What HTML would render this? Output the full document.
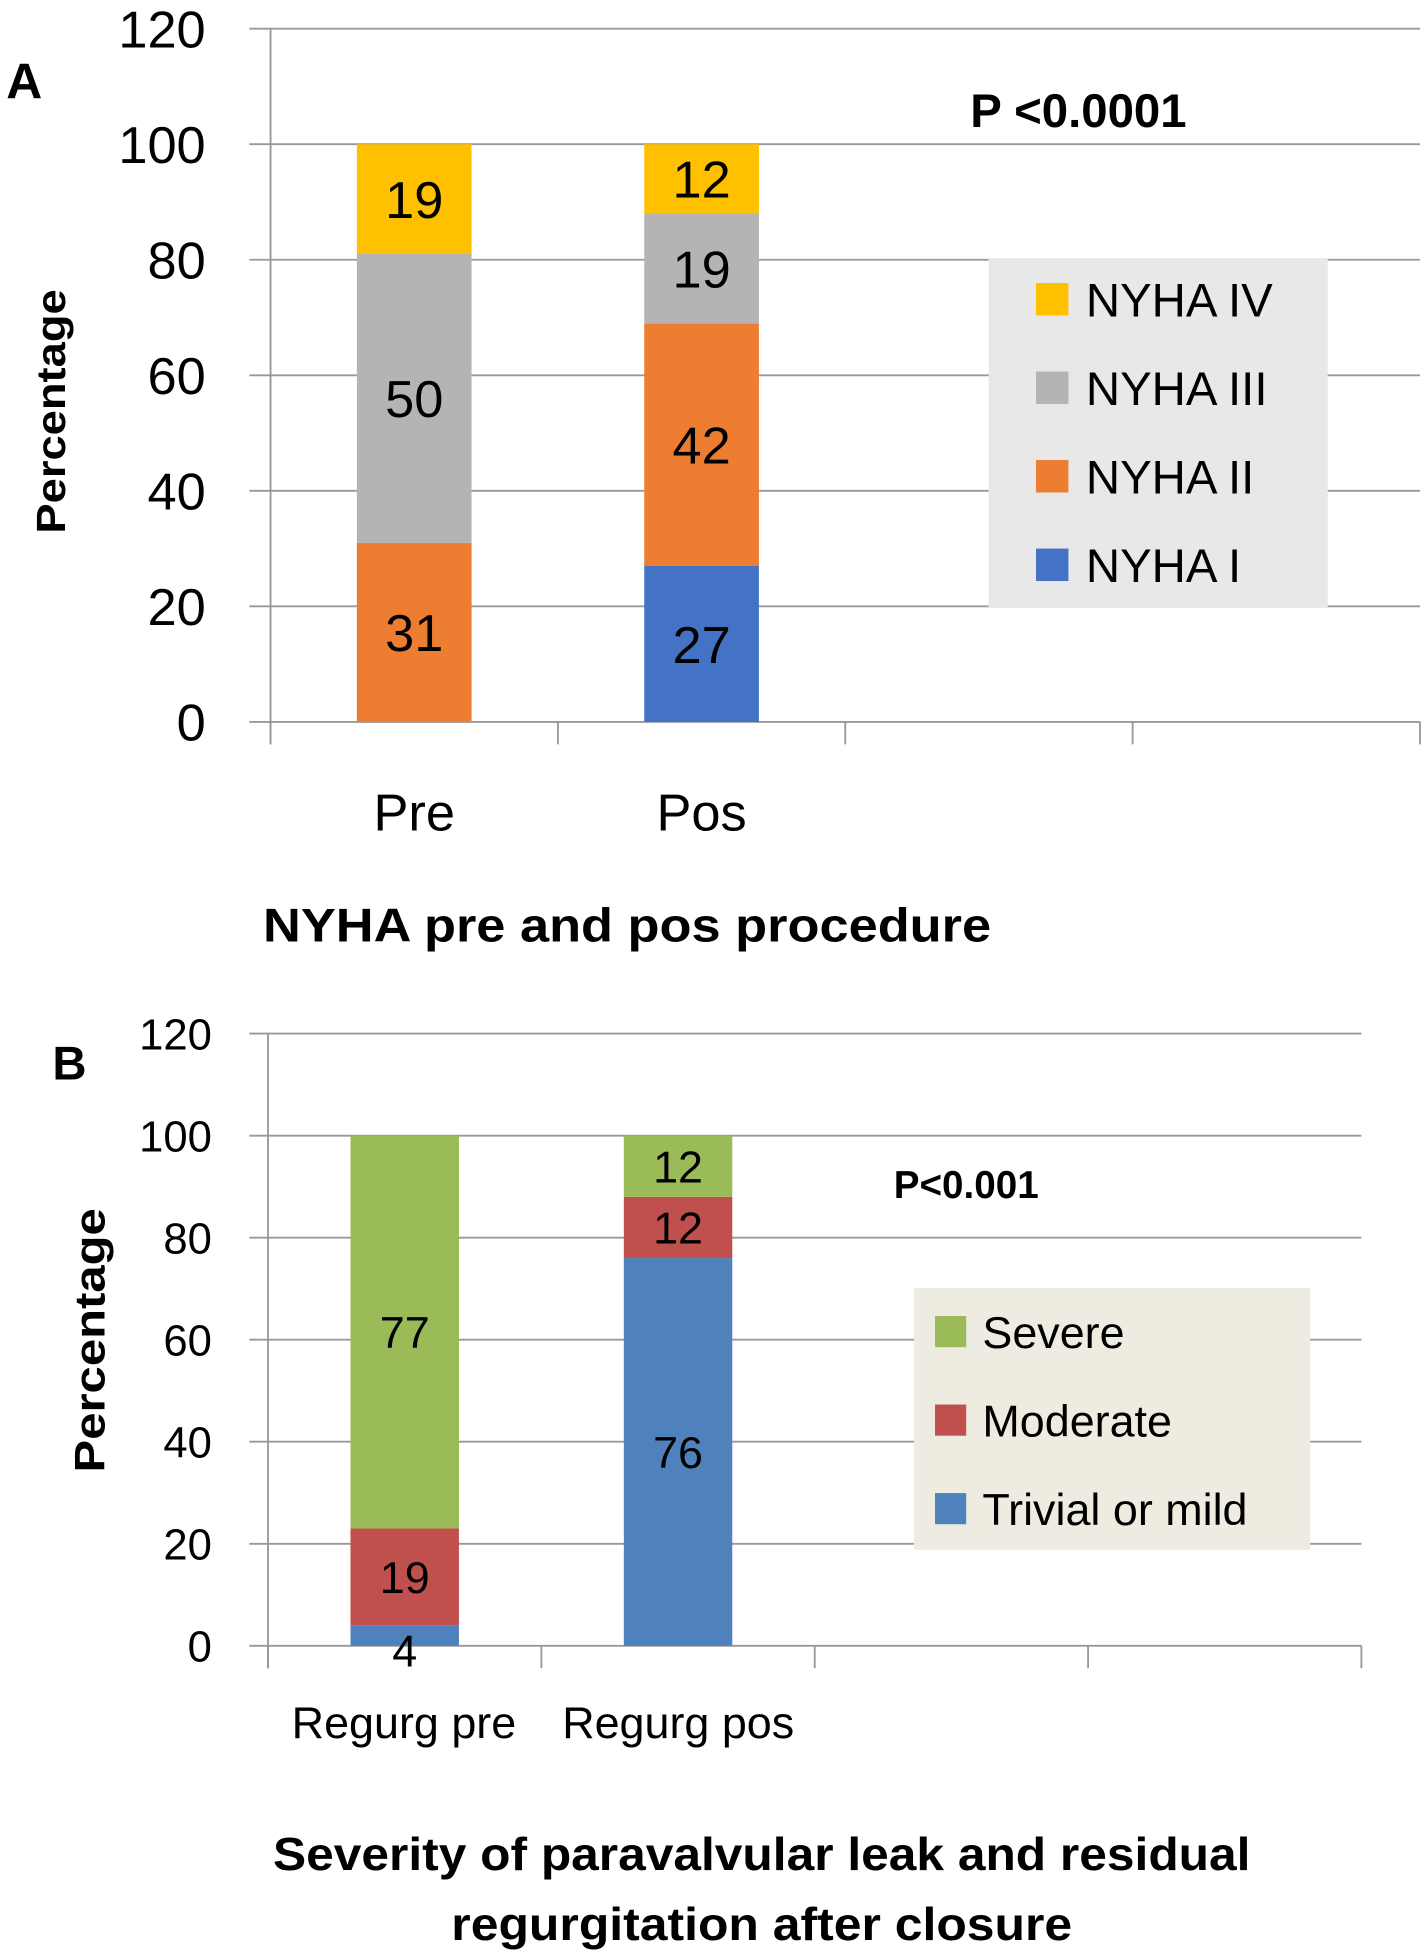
<!DOCTYPE html>
<html><head><meta charset="utf-8"><style>
html,body{margin:0;padding:0;background:#fff}
svg{display:block}
text{font-family:"Liberation Sans",sans-serif}
</style></head><body>
<svg id="s" width="1425" height="1955" viewBox="0 0 1143 1568" preserveAspectRatio="none" xmlns="http://www.w3.org/2000/svg">
<text x="5" y="79" font-size="40" font-weight="bold">A</text>
<text x="865" y="102" font-size="38" font-weight="bold" text-anchor="middle">P &lt;0.0001</text>
<text transform="translate(52,330) rotate(-90)" font-size="33" font-weight="bold" text-anchor="middle" textLength="196" lengthAdjust="spacingAndGlyphs">Percentage</text>
<text x="503" y="755" font-size="38" font-weight="bold" text-anchor="middle" textLength="584" lengthAdjust="spacingAndGlyphs">NYHA pre and pos procedure</text>
<text x="42" y="866" font-size="38" font-weight="bold">B</text>
<text x="775" y="961" font-size="31" font-weight="bold" text-anchor="middle">P&lt;0.001</text>
<text transform="translate(84,1075) rotate(-90)" font-size="34" font-weight="bold" text-anchor="middle" textLength="212" lengthAdjust="spacingAndGlyphs">Percentage</text>
<text x="611" y="1500" font-size="37" font-weight="bold" text-anchor="middle" textLength="784" lengthAdjust="spacingAndGlyphs">Severity of paravalvular leak and residual</text>
<text x="611" y="1556" font-size="37" font-weight="bold" text-anchor="middle" textLength="498" lengthAdjust="spacingAndGlyphs">regurgitation after closure</text>
</svg>
<script>
// Panel A data
const catsA = ["Pre", "Pos"];
const seriesNamesA = ["NYHA I", "NYHA II", "NYHA III", "NYHA IV"];
const nyha1 = [0, 27];
const nyha2 = [31, 42];
const nyha3 = [50, 19];
const nyha4 = [19, 12];
const ticksA = [0, 20, 40, 60, 80, 100, 120];
// Panel B data
const catsB = ["Regurg pre", "Regurg pos"];
const seriesNamesB = ["Trivial or mild", "Moderate", "Severe"];
const trivial = [4, 76];
const moderate = [19, 12];
const severe = [77, 12];
const ticksB = [0, 20, 40, 60, 80, 100, 120];

const NS = "http://www.w3.org/2000/svg";
const svg = document.getElementById('s');
function mk(tag, attrs, parent) {
  const e = document.createElementNS(NS, tag);
  for (const k in attrs) e.setAttribute(k, attrs[k]);
  (parent || svg).appendChild(e);
  return e;
}

function drawPanel(cfg) {
  const y = v => cfg.y0 - (v / cfg.max) * (cfg.y0 - cfg.yTop);
  const nCat = 4;
  const bandW = (cfg.xR - cfg.xL) / nCat;
  const x = i => cfg.xL + bandW * (i + 0.5);
  const g = mk('g', {});
  
  
  cfg.ticks.forEach(t => {
    const l = mk('line', {x1: cfg.gridL, x2: cfg.xR, y1: y(t), y2: y(t), stroke: '#999', 'stroke-width': 1.5}, g);
    
    
    const tx = mk('text', {x: cfg.tickX, y: y(t) + cfg.tickFs * 0.36, 'font-size': cfg.tickFs, 'text-anchor': 'end', fill: '#000'}, g);
    tx.textContent = t;
    
    
  });
  const ax = mk('line', {x1: cfg.xL, x2: cfg.xL, y1: cfg.yTop, y2: cfg.y0 + 18, stroke: '#999', 'stroke-width': 1.5}, g);
  
  
  for (let i = 0; i <= nCat; i++) {
    const t = mk('line', {x1: cfg.xL + bandW * i, x2: cfg.xL + bandW * i, y1: cfg.y0, y2: cfg.y0 + 18, stroke: '#999', 'stroke-width': 1.5}, g);
    
    
  }
  cfg.cats.forEach((c, i) => {
    let base = 0;
    cfg.series.forEach((s, k) => {
      const v = s[i];
      if (v > 0) {
        const r = mk('rect', {x: x(i) - cfg.barW / 2, y: y(base + v), width: cfg.barW, height: y(base) - y(base + v), fill: cfg.colors[k]}, g);
        
        
        const lt = mk('text', {x: x(i), y: (y(base) + y(base + v)) / 2 + cfg.valFs * 0.36 + (v < 6 ? 12 : 0), 'font-size': cfg.valFs, 'text-anchor': 'middle', fill: '#000'}, g);
        lt.textContent = v;
        
        
      }
      base += v;
    });
    const cl = mk('text', {x: cfg.catX ? cfg.catX[i] : x(i), y: cfg.catY, 'font-size': cfg.catFs, 'text-anchor': 'middle', fill: '#000'}, g);
    cl.textContent = c;
    
    
  });
  // legend
  const L = cfg.legend;
  const lg = mk('rect', {x: L.x, y: L.y, width: L.w, height: L.h, fill: L.bg}, g);
  
  
  const order = cfg.names.map((n, k) => k).reverse();
  order.forEach((k, j) => {
    const cy = L.firstY + j * L.step;
    const sq = mk('rect', {x: L.sqX, y: cy - L.sq / 2, width: L.sq, height: L.sq, fill: cfg.colors[k]}, g);
    
    
    const t = mk('text', {x: L.tx, y: cy + L.fs * 0.36, 'font-size': L.fs, fill: '#000'}, g);
    t.textContent = cfg.names[k];
    
    
  });
}

drawPanel({
  prefix: 'panel-a', cats: catsA, names: seriesNamesA,
  series: [nyha1, nyha2, nyha3, nyha4],
  colors: ['#4472c4', '#ed7d31', '#b4b4b4', '#ffc000'],
  ticks: ticksA, max: 120, y0: 579, yTop: 23, xL: 217, xR: 1139, gridL: 200,
  barW: 92, tickX: 165, tickFs: 42, valFs: 42, catFs: 42, catY: 666,
  legend: {x: 793, y: 207, w: 272, h: 280, bg: '#e8e8e8', firstY: 240, step: 71, sqX: 831, sq: 26, tx: 871, fs: 38}
});
drawPanel({
  prefix: 'panel-b', cats: catsB, names: seriesNamesB,
  series: [trivial, moderate, severe],
  colors: ['#4f81bd', '#c0504d', '#9bbb59'],
  ticks: ticksB, max: 120, y0: 1320, yTop: 829, xL: 215, xR: 1092, gridL: 200,
  barW: 87, tickX: 170, tickFs: 35, valFs: 36, catFs: 36, catY: 1394, catX: [324, 544],
  legend: {x: 733, y: 1033, w: 318, h: 210, bg: '#eeece1', firstY: 1068, step: 71, sqX: 750, sq: 25, tx: 788, fs: 36}
});
</script>
</body></html>
